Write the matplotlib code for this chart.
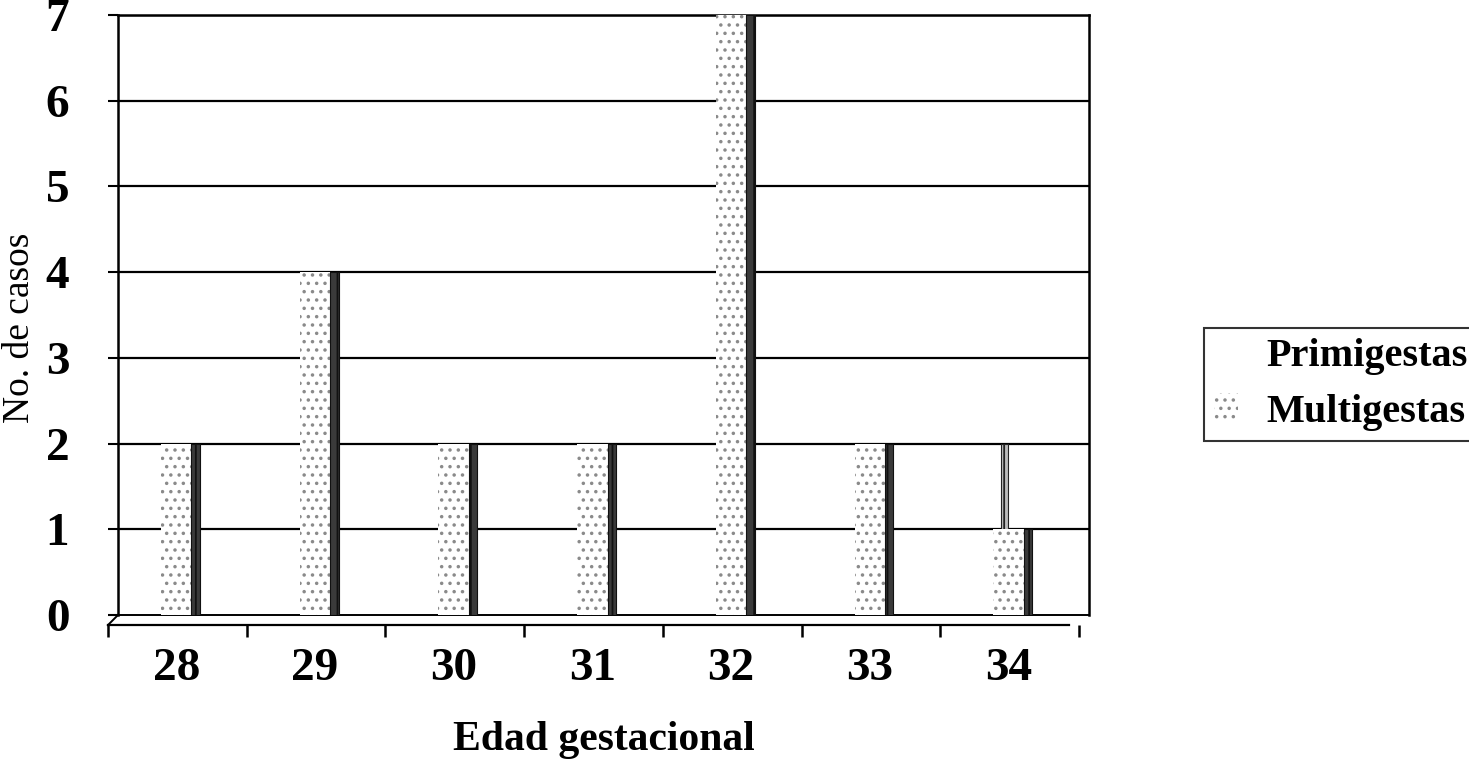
import numpy as np
import matplotlib
matplotlib.use("Agg")
import matplotlib.pyplot as plt
from matplotlib.patches import Patch
from matplotlib.transforms import ScaledTranslation

# Datos
semanas = ["28", "29", "30", "31", "32", "33", "34"]
multigestas = [2, 4, 2, 2, 7, 2, 1]
primigestas = [0, 0, 0, 0, 0, 0, 2]
yticks = [0, 1, 2, 3, 4, 5, 6, 7]

plt.rcParams["font.family"] = ["Liberation Serif", "DejaVu Serif"]
plt.rcParams["hatch.linewidth"] = 1.3

fig = plt.figure(figsize=(14.69, 7.71), dpi=100)
ax = fig.add_axes([0.0803, 0.2023, 0.661, 0.7782])

x = np.arange(len(semanas))
front_w = 0.22
side_w = 0.06
shift = -0.08

# desplazamiento del "frente" del piso 3D
front = ax.transData + ScaledTranslation(-0.1, -0.1, fig.dpi_scale_trans)

# líneas de cuadrícula de la pared del fondo
for v in yticks[1:]:
    ax.axhline(v, color="black", lw=1.6, zorder=1)

# serie del fondo (primigestas)
ax.bar(x + shift - 0.03, primigestas, width=0.05, color="#bbbbbb",
       edgecolor="#222222", hatch="||", lw=0.8, zorder=2)

# cara frontal punteada y cara lateral oscura (multigestas)
ax.bar(x + shift, multigestas, width=front_w, color="white",
       edgecolor="#8a8a8a", hatch="..", lw=0, zorder=3)
ax.bar(x + shift + front_w / 2 + side_w / 2, multigestas, width=side_w,
       color="#3a3a3a", edgecolor="#111111", hatch="||", lw=0.8, zorder=3)

# piso frontal con marcas
ax.plot([-0.5, 6.43], [0, 0], color="black", lw=1.6, transform=front,
        clip_on=False, zorder=4)
ax.vlines(np.arange(-0.5, 7.0, 1.0), -0.14, 0, color="black", lw=1.8,
          transform=front, clip_on=False, zorder=4)
ax.plot([-0.5, -0.5 - 0.072], [0, -0.117], color="black", lw=1.4,
        clip_on=False, zorder=4)

ax.set_xlim(-0.5, 6.5)
ax.set_ylim(0, 7)
ax.set_yticks(yticks)
ax.set_yticklabels([str(v) for v in yticks], fontsize=34, fontweight="bold")
ax.set_xticks(x + shift)
ax.set_xticklabels(semanas, fontsize=34, fontweight="bold")
ax.tick_params(axis="x", length=0, pad=24)
ax.tick_params(axis="y", length=7, width=1.5, pad=28)

for s in ["top", "right", "left"]:
    ax.spines[s].set_linewidth(1.8)
ax.spines["bottom"].set_linewidth(1.4)

ax.set_xlabel("Edad gestacional", fontsize=30, fontweight="bold", labelpad=22)
ax.set_ylabel("No. de casos", fontsize=27)
ax.yaxis.set_label_coords(-0.083, 0.478)

handles = [Patch(facecolor="white", edgecolor="none"),
           Patch(facecolor="white", edgecolor="#8a8a8a", hatch="..", lw=0)]
leg = fig.legend(handles, ["Primigestas", "Multigestas"], loc="upper left",
                 bbox_to_anchor=(0.8196, 0.5746), frameon=True, fancybox=False,
                 prop={"size": 29, "weight": "bold"}, handlelength=0.6,
                 handleheight=0.7, handletextpad=0.7, borderpad=0.25,
                 labelspacing=0.45, borderaxespad=0)
leg.get_frame().set_edgecolor("black")
leg.get_frame().set_linewidth(1.5)

fig.savefig("out.png", dpi=100)
